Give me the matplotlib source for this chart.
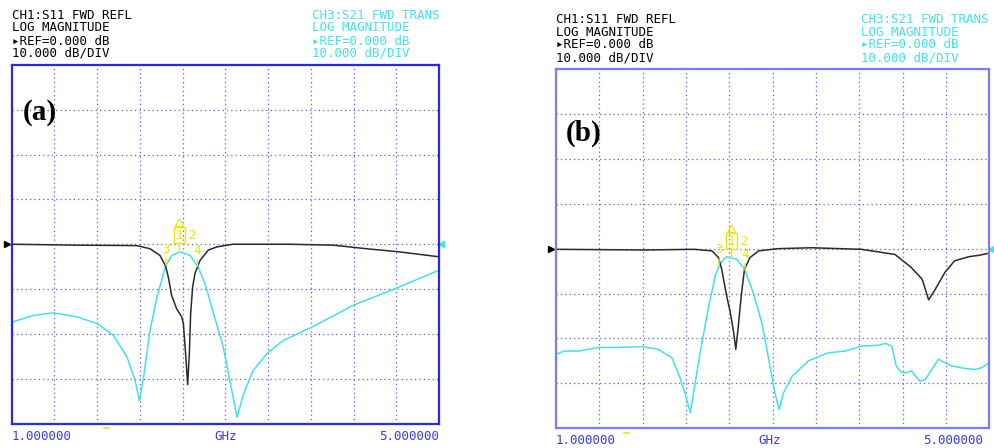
import numpy as np
import matplotlib.pyplot as plt
from matplotlib.transforms import offset_copy

# figure size in pixels
W, H = 994, 448

# panel (a) traces (GHz, dB)
s11_a_f = [1.0, 1.6, 2.17, 2.295, 2.388, 2.441, 2.466, 2.497, 2.544, 2.591, 2.607, 2.628,
           2.647, 2.663, 2.675, 2.694, 2.716, 2.763, 2.841, 2.919, 3.07, 3.6, 4.01, 4.32,
           4.63, 5.0]
s11_a_db = [0.0, -0.2, -0.3, -1.0, -2.5, -4.9, -7.3, -11.4, -14.4, -16.2, -17.7, -24.4,
            -31.3, -24.4, -15.5, -9.5, -6.5, -3.6, -1.3, -0.6, 0.0, 0.0, -0.2, -1.0,
            -1.7, -2.8]

s21_a_f = [1.0, 1.2, 1.39, 1.61, 1.80, 1.95, 2.08, 2.155, 2.195, 2.23, 2.295, 2.36, 2.44,
           2.50, 2.575, 2.67, 2.745, 2.81, 2.89, 2.98, 3.06, 3.11, 3.17, 3.26, 3.39, 3.54,
           3.81, 4.20, 4.59, 5.0]
s21_a_db = [-17.4, -15.9, -15.3, -16.2, -17.7, -20.3, -25.2, -30.4, -34.9, -30.4, -19.2,
            -11.8, -4.9, -2.5, -1.7, -2.5, -5.1, -8.8, -15.5, -22.9, -32.6, -38.6, -33.4,
            -28.2, -24.4, -21.5, -18.5, -13.6, -9.9, -5.8]

# panel (b) traces
s11_b_f = [1.0, 1.82, 2.28, 2.44, 2.50, 2.53, 2.575, 2.61, 2.64, 2.66, 2.68, 2.71, 2.74,
           2.79, 2.87, 3.05, 3.36, 3.82, 4.13, 4.28, 4.38, 4.44, 4.50, 4.59, 4.68, 4.81,
           4.90, 5.0]
s11_b_db = [-0.15, -0.3, -0.15, -0.5, -2.0, -4.6, -10.5, -14.3, -18.7, -22.4, -18.0, -10.5,
            -4.6, -2.0, -0.5, 0.0, 0.2, -0.15, -1.3, -4.2, -6.8, -11.4, -9.1, -5.3, -2.7,
            -1.8, -1.5, -1.0]

s21_b_f = [1.0, 1.08, 1.21, 1.39, 1.58, 1.79, 1.94, 2.07, 2.14, 2.19, 2.24, 2.28, 2.33,
           2.41, 2.47, 2.51, 2.575, 2.67, 2.74, 2.82, 2.90, 2.975, 3.02, 3.06, 3.10, 3.18,
           3.33, 3.51, 3.67, 3.82, 3.98, 4.04, 4.10, 4.14, 4.19, 4.24, 4.28, 4.33, 4.36,
           4.41, 4.47, 4.53, 4.59, 4.65, 4.78, 4.87, 4.93, 5.0]
s21_b_db = [-23.5, -22.8, -22.8, -22.0, -22.0, -21.8, -22.4, -24.3, -28.4, -32.1, -36.5,
            -30.6, -23.2, -12.8, -6.1, -3.5, -1.8, -2.4, -4.5, -9.8, -16.5, -26.1, -32.1,
            -35.8, -32.1, -28.4, -25.0, -23.2, -22.8, -21.7, -21.5, -21.1, -21.7, -26.1,
            -27.6, -27.6, -27.2, -28.7, -29.5, -29.1, -26.9, -24.6, -25.4, -26.1, -26.7,
            -26.9, -26.5, -25.4]

# marker frequencies (GHz): 1 = centre, 3 / 4 = band edges
mk_a = [2.57, 2.445, 2.74]
mk_b = [2.62, 2.505, 2.745]

ch1_lines = ['CH1:S11 FWD REFL', 'LOG MAGNITUDE', '\u25b8REF=0.000 dB', '10.000 dB/DIV']
ch3_lines = ['CH3:S21 FWD TRANS', 'LOG MAGNITUDE', '\u25b8REF=0.000 dB', '10.000 dB/DIV']

black = '#2a2a2a'
cyan = '#3fe3ea'
yel = '#e6e600'
gridblue = '#5a5ae6'
mono = ['DejaVu Sans Mono', 'DejaVu Sans']


def px_rect(l, t, r, b):
    return [l / W, 1 - b / H, (r - l) / W, (b - t) / H]


def draw_panel(fig, rect, framecol, f11, d11, f21, d21, mk, label, label_xy, low_mk):
    ax = fig.add_axes(px_rect(*rect))
    ax.set_xlim(1, 5)
    ax.set_ylim(-40, 40)
    ax.set_xticks(np.linspace(1, 5, 11))
    ax.set_yticks(np.arange(-40, 41, 10))
    ax.tick_params(length=0, labelbottom=False, labelleft=False)
    ax.grid(True, color=gridblue, linestyle=(0, (1, 2.5)), linewidth=0.9)
    for sp in ax.spines.values():
        sp.set_color(framecol)
        sp.set_linewidth(1.6)

    ax.plot(f21, d21, color=cyan, lw=1.1)
    ax.plot(f11, d11, color=black, lw=1.1)

    # reference level arrows at the frame edges
    yt = ax.get_yaxis_transform()
    ax.plot([-0.012], [0], marker='>', color='black', ms=5, transform=yt, clip_on=False)
    ax.plot([1.005], [0], marker='<', color=cyan, ms=5, transform=yt, clip_on=False)

    # small stimulus mark under the frame
    xt = ax.get_xaxis_transform()
    ax.plot([low_mk - 0.025, low_mk + 0.025], [-0.012, -0.012], color=yel, lw=1.2,
            transform=xt, clip_on=False)

    # markers on the S21 trace
    y1 = np.interp(mk[0], f21, d21)
    ax.annotate('1', xy=(mk[0], y1), xytext=(0, 17), textcoords='offset pixels',
                ha='center', va='center', color=yel, fontsize=9, family=mono,
                bbox=dict(boxstyle='square,pad=0.12', fc='none', ec=yel, lw=1),
                arrowprops=dict(arrowstyle='-', color=yel, lw=1, shrinkA=0, shrinkB=0))
    ax.annotate('2', xy=(mk[0], y1), xytext=(12, 17), textcoords='offset pixels',
                ha='center', va='center', color=yel, fontsize=9, family=mono)
    tr = offset_copy(ax.transData, fig=fig, x=0, y=30, units='dots')
    ax.plot([mk[0]], [y1], marker='^', mfc='none', mec=yel, ms=6, mew=0.8, transform=tr)
    for num, fm in zip(['3', '4'], mk[1:]):
        ym = np.interp(fm, f21, d21)
        ax.annotate(num, xy=(fm, ym), xytext=(0, 16), textcoords='offset pixels',
                    ha='center', va='center', color=yel, fontsize=9, family=mono,
                    arrowprops=dict(arrowstyle='-', color=yel, lw=1, shrinkA=5, shrinkB=0))

    fig.text(label_xy[0] / W, 1 - label_xy[1] / H, label, ha='center', va='center',
             fontsize=21, fontweight='bold', family='Liberation Serif')
    return ax


fig = plt.figure(figsize=(W / 100, H / 100), dpi=100)

ax_a = draw_panel(fig, (11.7, 65, 439, 423.5), '#2a2ae6', s11_a_f, s11_a_db,
                  s21_a_f, s21_a_db, mk_a, '(a)', (40, 113), 1.89)
ax_b = draw_panel(fig, (556, 69, 989.3, 428.3), '#7b7bff', s11_b_f, s11_b_db,
                  s21_b_f, s21_b_db, mk_b, '(b)', (584, 133), 1.65)

# instrument header text
hdr_a = [15.2, 27.5, 41.5, 53.5]
hdr_b = [19.2, 32, 44.5, 58]
for i in range(4):
    fig.text(11.7 / W, 1 - hdr_a[i] / H, ch1_lines[i], color='black', fontsize=9,
             family=mono, va='center', ha='left')
    fig.text(311.7 / W, 1 - hdr_a[i] / H, ch3_lines[i], color=cyan, fontsize=9,
             family=mono, va='center', ha='left')
    fig.text(555.7 / W, 1 - hdr_b[i] / H, ch1_lines[i], color='black', fontsize=9,
             family=mono, va='center', ha='left')
    fig.text(860.7 / W, 1 - hdr_b[i] / H, ch3_lines[i], color=cyan, fontsize=9,
             family=mono, va='center', ha='left')

# frequency axis labels
blue_txt = '#3b3bdd'
for l, r, y in [(11.7, 439, 436), (556, 983, 440)]:
    fig.text(l / W, 1 - y / H, '1.000000', color=blue_txt, fontsize=9, family=mono,
             va='center', ha='left')
    fig.text((l + r) / 2 / W, 1 - y / H, 'GHz', color=blue_txt, fontsize=9, family=mono,
             va='center', ha='center')
    fig.text(r / W, 1 - y / H, '5.000000', color=blue_txt, fontsize=9, family=mono,
             va='center', ha='right')

fig.savefig('out.png', dpi=100)
